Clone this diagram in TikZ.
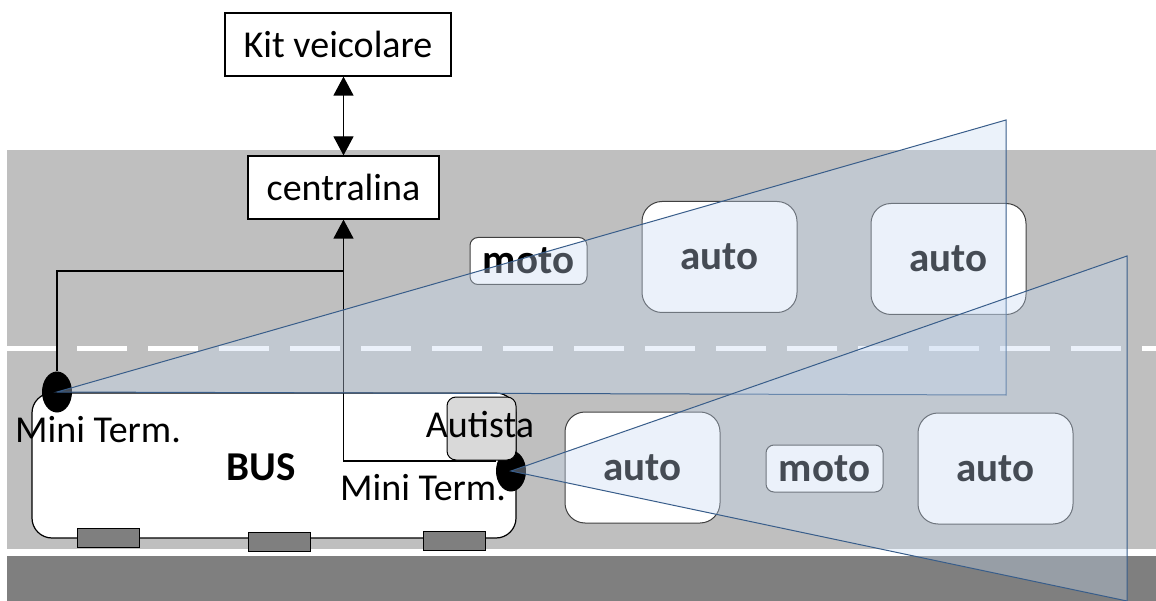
\documentclass[tikz,border=0pt]{standalone}
\usepackage{fontspec}
\setmainfont{Carlito}
\usepackage{tikz}
\usetikzlibrary{arrows.meta,shapes,positioning,calc}
\definecolor{roadgray}{RGB}{191,191,191}
\definecolor{curbgray}{RGB}{127,127,127}
\definecolor{conefill}{RGB}{198,217,241}
\definecolor{coneline}{RGB}{56,93,138}
\definecolor{carline}{RGB}{64,64,64}
\tikzstyle{box}=[draw=black, fill=white, line width=1.2pt, minimum height=63pt, inner sep=0pt, font=\fontsize{38}{44}\selectfont]
\tikzstyle{car}=[draw=carline, fill=white, line width=1pt, rounded corners=20pt, minimum width=155pt, minimum height=111pt, inner sep=0pt, font=\fontsize{41}{48}\selectfont\bfseries]
\tikzstyle{bike}=[car, rounded corners=8pt, minimum width=117pt, minimum height=47pt]
\tikzstyle{term}=[ellipse, fill=black, minimum width=30pt, minimum height=41pt, inner sep=0pt]
\tikzstyle{lab}=[inner sep=0pt, anchor=base, font=\fontsize{38}{44}\selectfont]
\tikzstyle{link}=[line width=1.2pt, black]
\tikzstyle{cone}=[draw=coneline, line width=1pt, fill=conefill, fill opacity=0.35]
\tikzstyle{wheel}=[draw=black, fill=curbgray, line width=1pt]

\begin{document}
\begin{tikzpicture}[x=1pt, y=-1pt, >={Triangle[width=20pt,length=19pt]}]
        \useasboundingbox (0,0) rectangle (1156,601);
        %
        \fill[roadgray] (7,150) rectangle (1156,549);
        \fill[curbgray] (7,556) rectangle (1156,601);
        \draw[white, line width=5pt, dash pattern=on 50pt off 21pt] (6,349) -- (1156,349);
        %
        \draw[fill=white, line width=1.2pt, rounded corners=20pt] (32,393) rectangle (516,538);
        \foreach \x/\y in {77/528, 248/532, 423/531}
          \draw[wheel] (\x,\y) rectangle ++(62,19);
        \node[lab, font=\fontsize{41}{48}\selectfont\bfseries] (bus) at (261,480) {BUS};
        \node[lab, anchor=base west] (mtRlab) at (340,500) {Mini Term.};
        %
        \node[box, minimum width=226pt] (kit) at (338,44.5) {Kit veicolare};
        \node[box, minimum width=191pt] (ctrl) at (343.5,187.5) {centralina};
        \node[term] (mtL) at (57,392) {};
        \node[term] (mtR) at (511,471) {};
        \coordinate (jL) at (ctrl.south |- 0,271);
        \draw[link, <->] (ctrl.north |- kit.south) -- (ctrl.north);
        \draw[link] (mtL.north) |- (jL);
        \draw[link, ->] ([yshift=10pt]mtR.west) -| (ctrl.south);
        \node[draw=black, fill=black!15, line width=1pt, rounded corners=9pt, minimum width=69pt, minimum height=63pt] (driver) at (481.5,428.5) {};
        \node[lab] (drvlab) at (480,437) {Autista};
        \node[lab, anchor=base west] (mtLlab) at (15,442) {Mini Term.};
        %
        \node[bike] (moto1) at (528.5,261) {moto};
        \node[car] (auto1) at (719.5,257) {auto};
        \node[car] (auto2) at (948.5,259) {auto};
        \node[car] (auto3) at (642.5,467.5) {auto};
        \node[bike] (moto2) at (824.5,468.5) {moto};
        \node[car] (auto4) at (995.5,468.5) {auto};
        %
        \draw[cone] (mtL.center) -- (1006,120) -- (1006,395) -- cycle;
        \draw[cone] (mtR.center) -- (1127,256) -- (1127,601) -- cycle;
\end{tikzpicture}
\end{document}
